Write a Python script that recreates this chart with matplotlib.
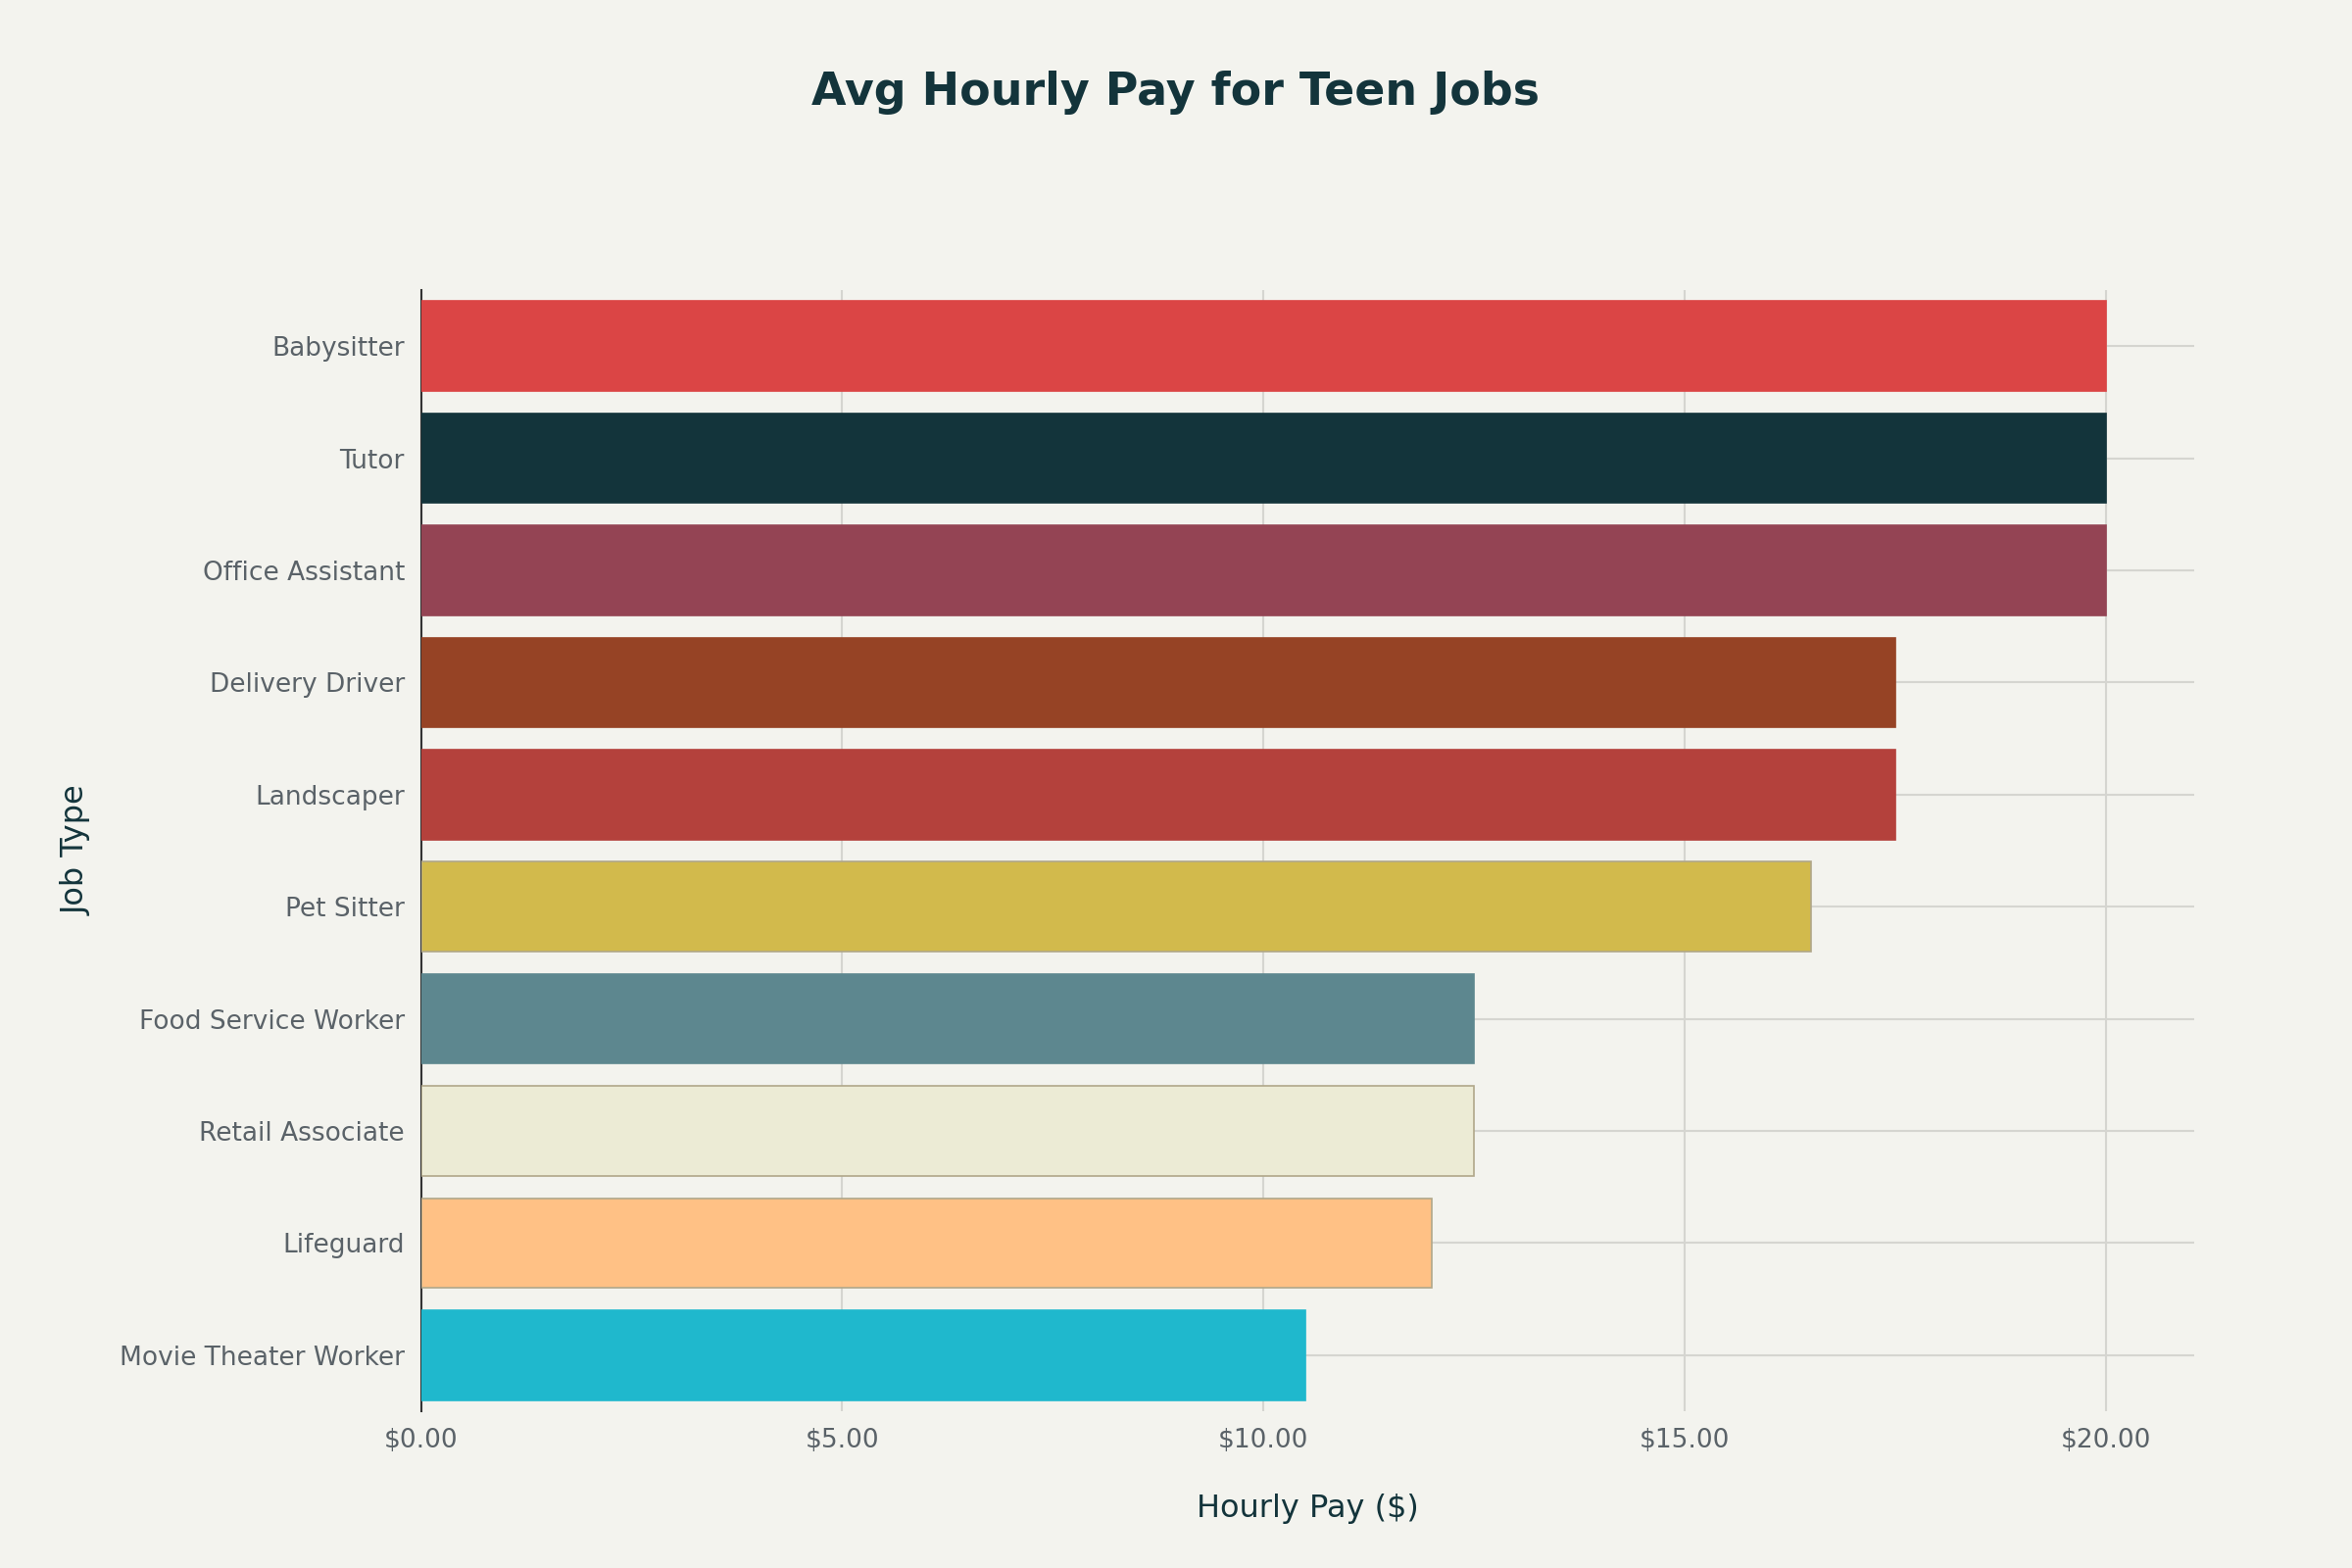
import matplotlib
matplotlib.use("Agg")
import matplotlib.pyplot as plt
from matplotlib.ticker import FuncFormatter

jobs = ["Babysitter", "Tutor", "Office Assistant", "Delivery Driver", "Landscaper",
        "Pet Sitter", "Food Service Worker", "Retail Associate", "Lifeguard", "Movie Theater Worker"]
pay = [20, 20, 20, 17.5, 17.5, 16.5, 12.5, 12.5, 12, 10.5]
colors = ["#DB4545", "#13343B", "#944454", "#964325", "#B4413C",
          "#D2BA4C", "#5D878F", "#ECEBD5", "#FFC185", "#1FB8CD"]

bg = "#F3F3EE"
fig = plt.figure(figsize=(24, 16), dpi=100, facecolor=bg)
ax = fig.add_axes([0.179, 0.100, 0.754, 0.715], facecolor=bg)
ypos = list(range(len(jobs)))[::-1]
edges = ["#B0A78A" if c in ("#ECEBD5", "#FFC185", "#D2BA4C") else c for c in colors]
ax.barh(ypos, pay, height=0.8, color=colors, edgecolor=edges, linewidth=1.2, zorder=3)
ax.set_yticks(ypos)
ax.set_yticklabels(jobs)
ax.set_xlim(0, 21.05)
ax.set_ylim(-0.5, len(jobs) - 0.5)
ax.set_xticks([0, 5, 10, 15, 20])
ax.xaxis.set_major_formatter(FuncFormatter(lambda v, p: f"${v:.2f}"))
ax.grid(True, color="#D5D5D0", linewidth=1.5, zorder=0)
for s in ["top", "right", "bottom"]:
    ax.spines[s].set_visible(False)
ax.spines["left"].set_color("#333333")
ax.spines["left"].set_linewidth(1.5)
ax.tick_params(axis="both", length=0, labelsize=19, labelcolor="#5A6268", pad=12)
ax.set_xlabel("Hourly Pay ($)", fontsize=23, color="#13343B", labelpad=30)
ax.set_ylabel("Job Type", fontsize=23, color="#13343B", labelpad=20)
fig.suptitle("Avg Hourly Pay for Teen Jobs", fontsize=33, fontweight="bold",
             color="#13343B", x=0.5, y=0.955)
fig.savefig("out.png", dpi=100, facecolor=bg)
